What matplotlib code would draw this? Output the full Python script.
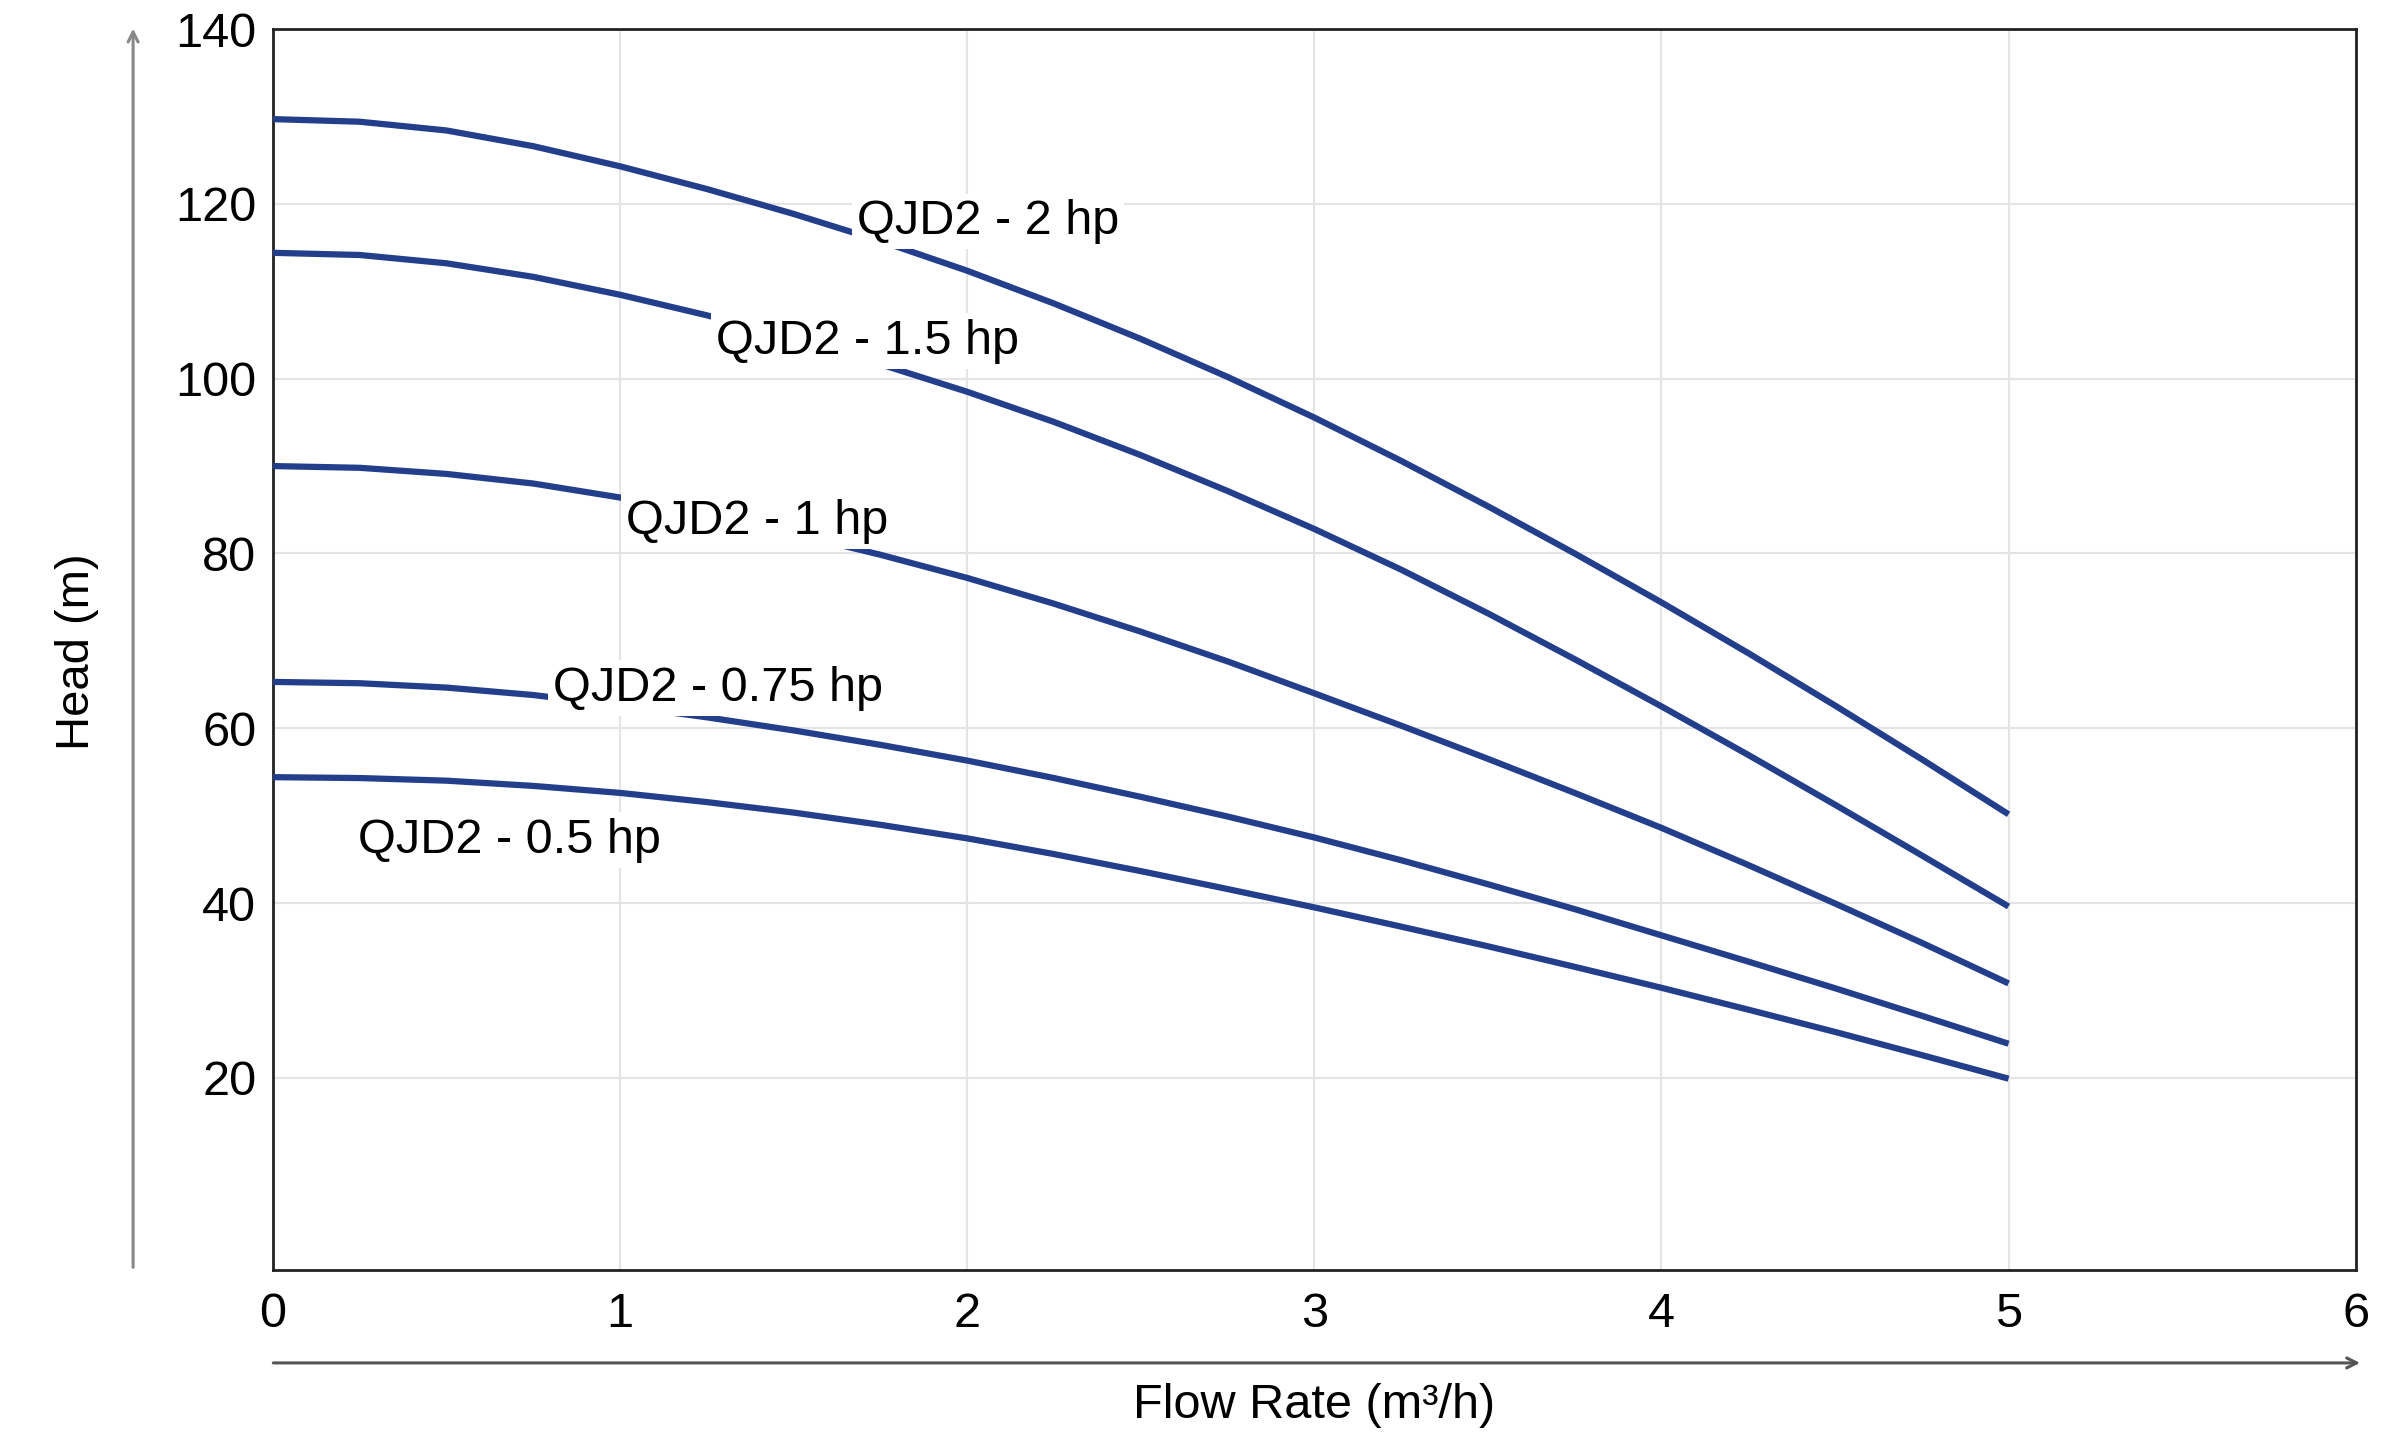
import matplotlib
matplotlib.use("Agg")
import matplotlib.pyplot as plt
import matplotlib.patches as mpatches

plt.rcParams['font.family'] = ['Liberation Sans', 'DejaVu Sans']

# flow rate (m3/h), read every 0.25
flow = [0, 0.25, 0.5, 0.75, 1, 1.25, 1.5, 1.75, 2, 2.25, 2.5,
        2.75, 3, 3.25, 3.5, 3.75, 4, 4.25, 4.5, 4.75, 5]
head_2hp = [129.7, 129.4, 128.4, 126.6, 124.3, 121.7, 118.85, 115.75, 112.35, 108.6, 104.55,
            100.2, 95.55, 90.6, 85.4, 80.0, 74.4, 68.6, 62.6, 56.45, 50.15]
head_15hp = [114.4, 114.15, 113.2, 111.65, 109.6, 107.25, 104.6, 101.65, 98.5, 95.05, 91.25,
             87.15, 82.8, 78.15, 73.15, 67.9, 62.5, 56.95, 51.25, 45.45, 39.6]
head_1hp = [90, 89.8, 89.1, 88.0, 86.4, 84.45, 82.25, 79.85, 77.2, 74.25, 71.05,
            67.65, 64.0, 60.3, 56.5, 52.6, 48.6, 44.35, 39.95, 35.45, 30.8]
head_075hp = [65.3, 65.15, 64.65, 63.8, 62.6, 61.25, 59.75, 58.1, 56.3, 54.3, 52.15,
              49.9, 47.5, 44.9, 42.15, 39.3, 36.3, 33.3, 30.25, 27.1, 23.9]
head_05hp = [54.4, 54.3, 54.0, 53.4, 52.6, 51.55, 50.35, 48.95, 47.4, 45.6, 43.65,
             41.6, 39.5, 37.3, 35.05, 32.7, 30.3, 27.8, 25.25, 22.6, 19.9]

names = ["QJD2 - 2 hp", "QJD2 - 1.5 hp", "QJD2 - 1 hp", "QJD2 - 0.75 hp", "QJD2 - 0.5 hp"]
label_x = [2.06, 1.713, 1.396, 1.283, 0.68]
label_y = [118.0, 104.3, 83.7, 64.6, 47.2]

xticks = [0, 1, 2, 3, 4, 5, 6]
yticks = [20, 40, 60, 80, 100, 120, 140]

blue = '#233f8c'

fig = plt.figure(figsize=(23.94, 14.33), dpi=100)
ax = fig.add_axes([0.114, 0.1137, 0.87, 0.866])

for h in [head_2hp, head_15hp, head_1hp, head_075hp, head_05hp]:
    ax.plot(flow, h, color=blue, lw=4.5, solid_capstyle='butt',
            solid_joinstyle='round', zorder=3)

for name, lx, ly in zip(names, label_x, label_y):
    ax.text(lx, ly, name, fontsize=35, ha='center', va='center', zorder=4,
            bbox=dict(fc='white', ec='none', pad=4))

ax.set_xlim(0, 6)
ax.set_ylim(-2, 140)
ax.set_xticks(xticks)
ax.set_yticks(yticks)
ax.tick_params(length=0, labelsize=35)
ax.tick_params(axis='x', pad=16)
ax.tick_params(axis='y', pad=12)
ax.grid(True, color='#e4e4e4', lw=1.5)
ax.set_axisbelow(True)
for s in ax.spines.values():
    s.set_linewidth(2)
    s.set_color('#222222')

# outer arrows
fig.patches.append(mpatches.FancyArrowPatch(
    (0.0556, 0.1137), (0.0556, 0.982), transform=fig.transFigure,
    arrowstyle='->', mutation_scale=18, color='#888888', lw=2.2))
fig.patches.append(mpatches.FancyArrowPatch(
    (0.113, 0.0489), (0.987, 0.0489), transform=fig.transFigure,
    arrowstyle='->', mutation_scale=18, color='#555555', lw=2.2))

fig.text(0.032, 0.545, "Head (m)", rotation=90, fontsize=34, ha='center', va='center')
fig.text(0.549, 0.0195, "Flow Rate (m³/h)", fontsize=35, ha='center', va='center')

fig.savefig("out.png", dpi=100)
